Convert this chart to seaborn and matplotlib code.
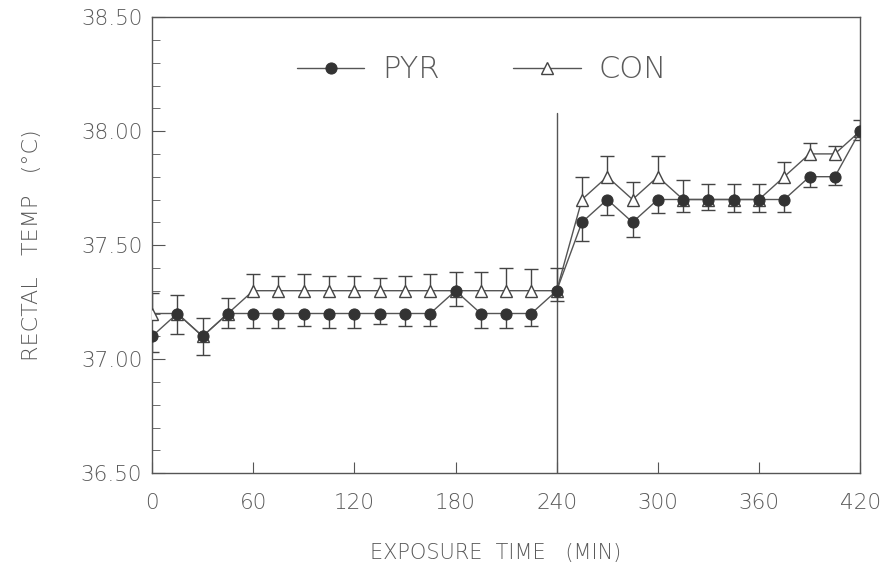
import numpy as np
import pandas as pd
import matplotlib
matplotlib.use('Agg')
import matplotlib.pyplot as plt
import matplotlib.ticker as mtick
import seaborn as sns

# Exposure time (min), one reading every 15 min
time_min = list(range(0, 421, 15))

# Rectal temperature means (deg C)
pyr_temp = [37.1, 37.2, 37.1, 37.2, 37.2, 37.2, 37.2, 37.2, 37.2, 37.2,
            37.2, 37.2, 37.3, 37.2, 37.2, 37.2, 37.3, 37.6, 37.7, 37.6,
            37.7, 37.7, 37.7, 37.7, 37.7, 37.7, 37.8, 37.8, 38.0]
con_temp = [37.2, 37.2, 37.1, 37.2, 37.3, 37.3, 37.3, 37.3, 37.3, 37.3,
            37.3, 37.3, 37.3, 37.3, 37.3, 37.3, 37.3, 37.7, 37.8, 37.7,
            37.8, 37.7, 37.7, 37.7, 37.7, 37.8, 37.9, 37.9, 38.0]

# Error bars: PYR drawn downward, CON drawn upward
pyr_err = [0.07, 0.09, 0.08, 0.065, 0.065, 0.065, 0.055, 0.065, 0.065, 0.045,
           0.055, 0.055, 0.068, 0.065, 0.065, 0.055, 0.045, 0.08, 0.07, 0.065,
           0.06, 0.055, 0.045, 0.055, 0.055, 0.055, 0.045, 0.035, 0.04]
con_err = [0.09, 0.08, 0.08, 0.07, 0.073, 0.064, 0.073, 0.064, 0.064, 0.055,
           0.064, 0.073, 0.083, 0.083, 0.10, 0.095, 0.10, 0.10, 0.09, 0.075,
           0.09, 0.085, 0.07, 0.07, 0.07, 0.065, 0.05, 0.035, 0.05]

x_ticks = [0, 60, 120, 180, 240, 300, 360, 420]
y_ticks = [36.5, 37.0, 37.5, 38.0, 38.5]

sns.set_style('ticks')
plt.rcParams['font.family'] = ['DejaVu Sans']
plt.rcParams['font.weight'] = 'light'
plt.rcParams['axes.labelweight'] = 'light'

ink = '#555555'
dot = '#333333'
txt = '#5a5a5a'

fig = plt.figure(figsize=(8.84, 5.70), dpi=100)
ax = fig.add_axes([0.172, 0.170, 0.801, 0.800])

# start of the second phase
ax.axvline(240, ymin=0, ymax=(38.08 - 36.5) / 2.0, color=ink, linewidth=1.0, zorder=1)

sns.lineplot(x=time_min, y=con_temp, ax=ax, color=ink, linewidth=1.0,
             marker='^', markersize=8, markerfacecolor='white',
             markeredgecolor='#444444', markeredgewidth=1.0, label='CON', zorder=3)
sns.lineplot(x=time_min, y=pyr_temp, ax=ax, color=ink, linewidth=1.0,
             marker='o', markersize=8, markerfacecolor=dot,
             markeredgecolor=dot, label='PYR', zorder=4)


def one_sided(y, err, down):
    zeros = np.zeros(len(err))
    yerr = [err, zeros] if down else [zeros, err]
    _, caps, _ = ax.errorbar(time_min, y, yerr=yerr, fmt='none', ecolor='#444444',
                             elinewidth=1.0, capsize=5, capthick=1.0, zorder=2)
    for c in caps:
        if np.allclose(c.get_ydata(), y):
            c.remove()


one_sided(pyr_temp, pyr_err, down=True)
one_sided(con_temp, con_err, down=False)

ax.set_xlim(0, 420)
ax.set_ylim(36.5, 38.5)
ax.set_xticks(x_ticks)
ax.set_yticks(y_ticks)
ax.yaxis.set_minor_locator(mtick.MultipleLocator(0.1))
ax.yaxis.set_major_formatter(mtick.FormatStrFormatter('%.2f'))

ax.tick_params(axis='both', which='both', direction='in', colors=ink,
               labelcolor=txt, labelsize=15.5, top=False, right=False)
ax.tick_params(axis='x', which='major', length=8, pad=14)
ax.tick_params(axis='y', which='major', length=9, pad=7)
ax.tick_params(axis='y', which='minor', length=6)
for s in ax.spines.values():
    s.set_color(ink)
    s.set_linewidth(1.0)

ax.set_xlabel('EXPOSURE  TIME   (MIN)', fontsize=15, color=txt, labelpad=22,
              fontweight='light', x=0.485)
ax.set_ylabel('RECTAL   TEMP   (°C)', fontsize=16, color=txt, labelpad=28,
              fontweight='light')

handles, labels = ax.get_legend_handles_labels()
order = [labels.index('PYR'), labels.index('CON')]
leg = ax.legend([handles[i] for i in order], [labels[i] for i in order],
                loc='center', bbox_to_anchor=(0.466, 0.884), ncol=2, frameon=False,
                fontsize=22, handlelength=2.2, handletextpad=0.6, columnspacing=2.4)
for t in leg.get_texts():
    t.set_color(txt)

fig.savefig('out.png', dpi=100, facecolor='white')
